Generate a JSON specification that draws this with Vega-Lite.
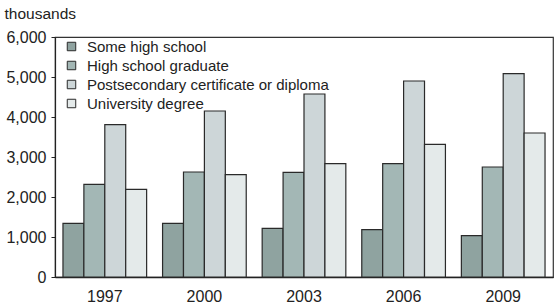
{
  "$schema": "https://vega.github.io/schema/vega-lite/v6.json",
  "width": 498,
  "height": 240,
  "autosize": "none",
  "padding": {"left": 55, "top": 37, "right": 3, "bottom": 30},
  "background": "white",
  "config": {
    "font": "Liberation Sans",
    "view": {"stroke": "#333333", "strokeWidth": 1.2}
  },
  "data": {
    "values": [
      {"year": "1997", "cat": "Some high school", "v": 1342},
      {"year": "1997", "cat": "High school graduate", "v": 2317},
      {"year": "1997", "cat": "Postsecondary certificate or diploma", "v": 3808},
      {"year": "1997", "cat": "University degree", "v": 2192},
      {"year": "2000", "cat": "Some high school", "v": 1342},
      {"year": "2000", "cat": "High school graduate", "v": 2625},
      {"year": "2000", "cat": "Postsecondary certificate or diploma", "v": 4150},
      {"year": "2000", "cat": "University degree", "v": 2558},
      {"year": "2003", "cat": "Some high school", "v": 1217},
      {"year": "2003", "cat": "High school graduate", "v": 2617},
      {"year": "2003", "cat": "Postsecondary certificate or diploma", "v": 4575},
      {"year": "2003", "cat": "University degree", "v": 2833},
      {"year": "2006", "cat": "Some high school", "v": 1183},
      {"year": "2006", "cat": "High school graduate", "v": 2833},
      {"year": "2006", "cat": "Postsecondary certificate or diploma", "v": 4900},
      {"year": "2006", "cat": "University degree", "v": 3317},
      {"year": "2009", "cat": "Some high school", "v": 1033},
      {"year": "2009", "cat": "High school graduate", "v": 2750},
      {"year": "2009", "cat": "Postsecondary certificate or diploma", "v": 5083},
      {"year": "2009", "cat": "University degree", "v": 3600}
    ]
  },
  "mark": {"type": "bar", "stroke": "#2a2a2a", "strokeWidth": 1.2},
  "encoding": {
    "x": {
      "field": "year", "type": "nominal",
      "scale": {"paddingInner": 0.16, "paddingOuter": 0.08},
      "axis": {
        "title": null, "labelAngle": 0, "ticks": false, "labelPadding": 11,
        "labelFontSize": 16, "labelColor": "#222", "domainColor": "#222", "domainWidth": 1.5
      }
    },
    "xOffset": {
      "field": "cat", "type": "nominal",
      "sort": ["Some high school", "High school graduate", "Postsecondary certificate or diploma", "University degree"],
      "scale": {"paddingInner": 0, "paddingOuter": 0}
    },
    "y": {
      "field": "v", "type": "quantitative",
      "scale": {"domain": [0, 6000], "nice": false},
      "axis": {
        "values": [0, 1000, 2000, 3000, 4000, 5000, 6000],
        "format": ",d", "grid": false, "tickSize": 4, "tickColor": "#222",
        "labelPadding": 5, "labelFontSize": 16, "labelColor": "#222",
        "domainColor": "#222", "domainWidth": 1.2,
        "title": "thousands", "titleAngle": 0, "titleAlign": "left", "titleBaseline": "middle",
        "titleX": -51, "titleY": -24, "titleFontSize": 15.5, "titleFontWeight": "normal", "titleColor": "#222"
      }
    },
    "fill": {
      "field": "cat", "type": "nominal",
      "sort": ["Some high school", "High school graduate", "Postsecondary certificate or diploma", "University degree"],
      "scale": {
        "domain": ["Some high school", "High school graduate", "Postsecondary certificate or diploma", "University degree"],
        "range": ["#8fa3a0", "#a3b7b5", "#cdd6d8", "#e4eaea"]
      },
      "legend": {
        "title": null, "orient": "none", "legendX": 9, "legendY": 2,
        "symbolType": "square", "symbolSize": 72, "symbolStrokeColor": "#2a2a2a", "symbolStrokeWidth": 1,
        "labelFontSize": 15, "labelColor": "#222", "rowPadding": 3, "labelOffset": 8, "labelLimit": 0
      }
    }
  }
}
